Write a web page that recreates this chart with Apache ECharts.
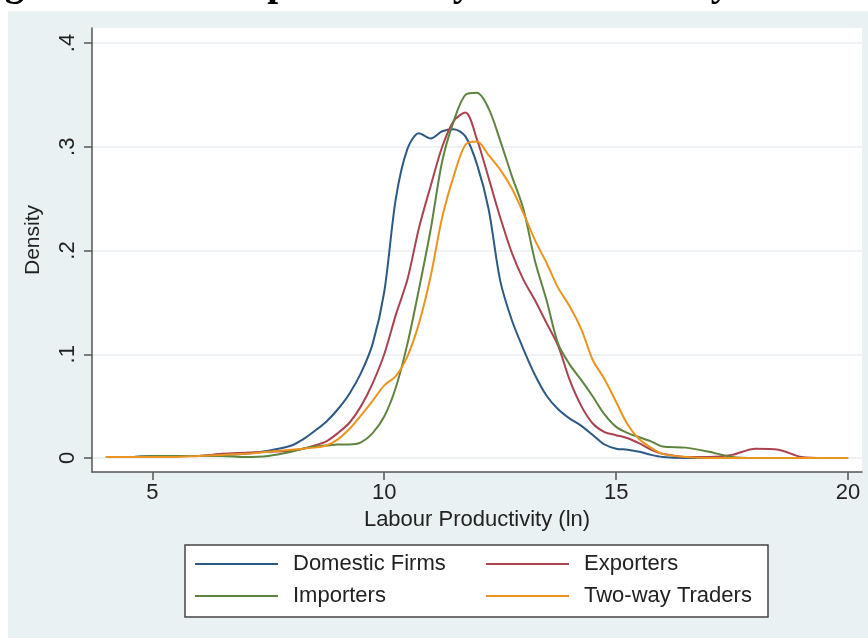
<!DOCTYPE html>
<html>
<head>
    <meta charset="utf-8">
    <title>ECharts</title>
    <script src="https://cdn.jsdelivr.net/npm/echarts@6/dist/echarts.min.js"></script>
    <style>
        html, body { margin: 0; padding: 0; background: #fff; }
    </style>
</head>
<body>
    <div id="main" style="width: 868px;height:638px;"></div>
    <script type="text/javascript">
        // kernel density curves
        var xGrid = [4, 4.5, 5, 5.5, 6, 6.5, 7, 7.5, 8,
            8.25, 8.5, 8.75, 9, 9.25, 9.5, 9.75, 10, 10.25, 10.5, 10.75, 11, 11.25, 11.5, 11.75,
            12, 12.25, 12.5, 12.75, 13, 13.25, 13.5, 13.75, 14, 14.25, 14.5, 14.75, 15, 15.25, 15.5, 15.75, 16,
            16.5, 17, 17.5, 18, 18.5, 19, 19.5, 20];
        var domestic = [0.001, 0.001, 0.002, 0.002, 0.002, 0.003, 0.004, 0.007, 0.012,
            0.018, 0.026, 0.035, 0.047, 0.062, 0.082, 0.11, 0.16, 0.25, 0.298, 0.313, 0.308, 0.315, 0.317, 0.31,
            0.283, 0.24, 0.171, 0.133, 0.105, 0.08, 0.06, 0.047, 0.038, 0.031, 0.022, 0.013, 0.009, 0.008, 0.006, 0.003, 0.001,
            0, 0, 0, 0, 0, 0, 0, 0];
        var exporters = [0.001, 0.001, 0.001, 0.002, 0.002, 0.004, 0.005, 0.006, 0.007,
            0.009, 0.012, 0.016, 0.024, 0.034, 0.05, 0.072, 0.1, 0.138, 0.172, 0.222, 0.262, 0.3, 0.325, 0.333,
            0.307, 0.27, 0.232, 0.198, 0.172, 0.152, 0.13, 0.108, 0.075, 0.05, 0.033, 0.025, 0.022, 0.019, 0.014, 0.008, 0.004,
            0.001, 0.001, 0.003, 0.009, 0.008, 0.001, 0, 0];
        var importers = [0.001, 0.001, 0.002, 0.002, 0.002, 0.002, 0.001, 0.002, 0.006,
            0.009, 0.011, 0.012, 0.013, 0.013, 0.015, 0.024, 0.04, 0.068, 0.11, 0.163, 0.22, 0.286, 0.325, 0.35,
            0.352, 0.337, 0.306, 0.272, 0.24, 0.19, 0.152, 0.11, 0.09, 0.075, 0.059, 0.042, 0.03, 0.024, 0.02, 0.016, 0.011,
            0.01, 0.006, 0.001, 0, 0, 0, 0, 0];
        var twoWay = [0.001, 0.001, 0.001, 0.001, 0.002, 0.003, 0.004, 0.006, 0.008,
            0.009, 0.01, 0.012, 0.018, 0.028, 0.041, 0.055, 0.07, 0.079, 0.098, 0.13, 0.175, 0.232, 0.272, 0.302,
            0.305, 0.292, 0.278, 0.26, 0.236, 0.21, 0.188, 0.164, 0.146, 0.124, 0.094, 0.076, 0.054, 0.032, 0.018, 0.01, 0.004,
            0.001, 0, 0, 0, 0, 0, 0, 0];

        var seriesNames = ['Domestic Firms', 'Exporters', 'Importers', 'Two-way Traders'];
        var seriesValues = [domestic, exporters, importers, twoWay];
        var colors = ['#2c5a85', '#a8434f', '#5f8440', '#eb9420'];

        var xTicks = [5, 10, 15, 20];
        var yTicks = [0, 0.1, 0.2, 0.3, 0.4];
        var yTickLabels = ['0', '.1', '.2', '.3', '.4'];

        var font = 'Liberation Sans';
        var myChart = echarts.init(document.getElementById('main'));

        var series = seriesValues.map(function (vals, k) {
            return {
                name: seriesNames[k],
                type: 'line',
                showSymbol: false,
                smooth: 0.3,
                data: xGrid.map(function (x, i) { return [x, vals[i]]; }),
                lineStyle: { width: 2, color: colors[k] },
                itemStyle: { color: colors[k] }
            };
        });

        // legend laid out as 2 x 2 inside a framed box
        var legendPos = [[195, 553], [486, 553], [195, 585], [486, 585]];
        var legends = seriesNames.map(function (name, k) {
            return {
                data: [name],
                left: legendPos[k][0],
                top: legendPos[k][1],
                padding: 0,
                icon: 'rect',
                itemWidth: 83,
                itemHeight: 2,
                selectedMode: false,
                z: 10,
                textStyle: { fontFamily: font, fontSize: 22, color: '#222', padding: [0, 0, 0, 10] }
            };
        });

        var option = {
            backgroundColor: '#fff',
            animation: false,
            color: colors,
            graphic: [
                { type: 'rect', z: -10, shape: { x: 8, y: 11, width: 860, height: 627 }, style: { fill: '#e9f1f3' } },
                { type: 'rect', z: 5, shape: { x: 185, y: 545, width: 583, height: 72 }, style: { fill: '#fff', stroke: '#444', lineWidth: 1.5 } },
                // heading of the page, cut off at the top edge
                { type: 'text', z: 5, left: -30, top: -35, style: { text: 'Figure 1: Labour productivity distribution by trade status', font: 'bold 39px "Liberation Serif"', fill: '#000' } }
            ],
            legend: legends,
            grid: {
                left: 92, right: 6, top: 28, bottom: 166,
                show: true, backgroundColor: '#fff', borderWidth: 0
            },
            xAxis: {
                type: 'value',
                min: 3.7,
                max: 20.3,
                name: 'Labour Productivity (ln)',
                nameLocation: 'middle',
                nameGap: 36,
                nameTextStyle: { fontFamily: font, fontSize: 22, color: '#222' },
                axisLine: { onZero: false, lineStyle: { color: '#555', width: 1.5 } },
                axisTick: { customValues: xTicks, length: 8, lineStyle: { color: '#555', width: 1.5 } },
                axisLabel: { customValues: xTicks, fontFamily: font, fontSize: 22, color: '#222', margin: 10 },
                splitLine: { show: false }
            },
            yAxis: {
                type: 'value',
                min: -0.0135,
                max: 0.4145,
                name: 'Density',
                nameLocation: 'middle',
                nameGap: 48,
                nameTextStyle: { fontFamily: font, fontSize: 21, color: '#222', padding: [0, 0, 0, 20] },
                axisLine: { show: true, onZero: false, lineStyle: { color: '#555', width: 1.5 } },
                axisTick: { show: true, customValues: yTicks, length: 8, lineStyle: { color: '#555', width: 1.5 } },
                axisLabel: {
                    customValues: yTicks,
                    rotate: 90,
                    fontFamily: font, fontSize: 22, color: '#222', margin: 13,
                    formatter: function (v) {
                        var i = yTicks.indexOf(Math.round(v * 10) / 10);
                        return i >= 0 ? yTickLabels[i] : '';
                    }
                },
                splitLine: { show: true, lineStyle: { color: '#e8eef0', width: 1.5 } }
            },
            series: series
        };

        myChart.setOption(option);
    </script>
</body>
</html>
